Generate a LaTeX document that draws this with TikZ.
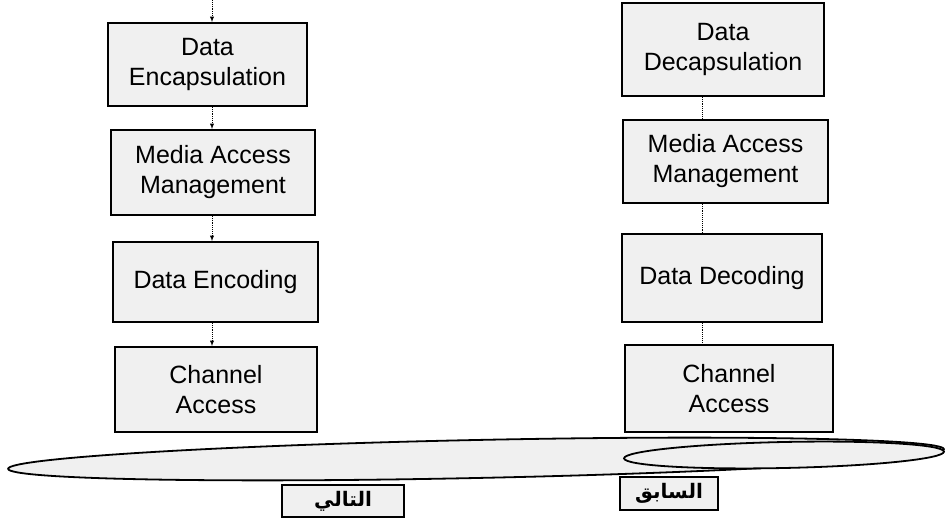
\documentclass[tikz,border=0pt]{standalone}
\usepackage{fontspec}
\setmainfont{Liberation Sans}
\newfontfamily\arabicfont[Script=Arabic]{DejaVu Sans}
\TeXXeTstate=1
\usetikzlibrary{shapes.geometric}

\tikzstyle{block} = [ draw,line width=1.8pt,fill=black!6,align=center,
                      inner sep=0pt,font=\fontsize{25}{30}\selectfont]
\tikzstyle{ring}  = [ draw,ellipse,line width=1.8pt,fill=black!6,inner sep=0pt]
\tikzstyle{tag}   = [ draw,line width=1.8pt,fill=black!6,inner sep=0pt,
                      font=\fontsize{20}{24}\selectfont]
\tikzstyle{link}  = [ densely dotted,line width=0.9pt]

\begin{document}
\begin{tikzpicture}[x=1pt,y=-1pt]
  \useasboundingbox (0,0) rectangle (946,518);

  % sending side
  \node[block,minimum width=199pt,minimum height=83pt] at (207.5,64.5) (enc)   {Data\\Encapsulation};
  \node[block,minimum width=204pt,minimum height=85pt] at (213,172.5)  (macl)  {Media Access\\Management};
  \node[block,minimum width=205pt,minimum height=80pt] at (215.5,282)  (coder) {Data Encoding};
  \node[block,minimum width=202pt,minimum height=85pt] at (216,389.5)  (chl)   {Channel\\Access};

  % receiving side
  \node[block,minimum width=202pt,minimum height=93pt] at (723,49.5)   (dec)   {Data\\Decapsulation};
  \node[block,minimum width=205pt,minimum height=83pt] at (725.5,161.5)(macr)  {Media Access\\Management};
  \node[block,minimum width=200pt,minimum height=88pt] at (722,278)    (decoder){Data Decoding};
  \node[block,minimum width=208pt,minimum height=87pt] at (729,388.5)  (chr)   {Channel\\Access};

  \coordinate (lx) at (212,0);
  \coordinate (rx) at (702,0);

  \draw[link,-latex] (lx) -- (enc.north -| lx);
  \draw[link,-latex] (enc.south -| lx)   -- (macl.north -| lx);
  \draw[link,-latex] (macl.south -| lx)  -- (coder.north -| lx);
  \draw[link,-latex] (coder.south -| lx) -- (chl.north -| lx);

  \draw[link] (dec.south -| rx)     -- (macr.north -| rx);
  \draw[link] (macr.south -| rx)    -- (decoder.north -| rx);
  \draw[link] (decoder.south -| rx) -- (chr.north -| rx);

  % medium
  \node[ring,minimum width=936pt,minimum height=38pt,rotate=1.2] at (476,459) (band) {};
  \node[ring,minimum width=320pt,minimum height=26pt,rotate=1.2] at (784,455) (prev) {};

  \node[tag,minimum width=122pt,minimum height=32pt] at (343,501)   (nextlbl) {\arabicfont\bfseries\beginR التالي\endR};
  \node[tag,minimum width=98pt,minimum height=33pt]  at (669,493.5) (prevlbl) {\arabicfont\bfseries\beginR السابق\endR};
\end{tikzpicture}
\end{document}
